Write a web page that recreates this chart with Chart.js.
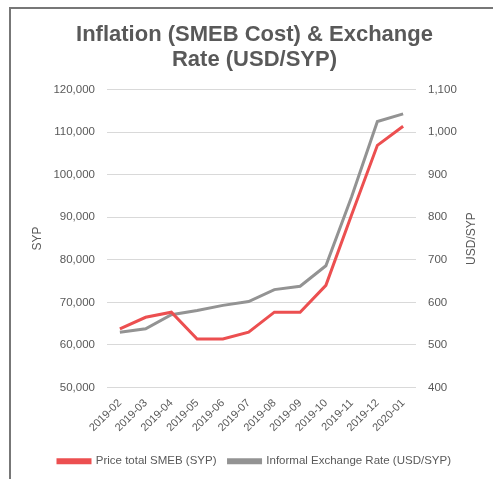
<!DOCTYPE html>
<html>
<head>
<meta charset="utf-8">
<script src="https://cdn.jsdelivr.net/npm/chart.js@4"></script>
<style>
  html, body { margin: 0; padding: 0; background: #fff; overflow: hidden; }
  #wrap { position: relative; width: 493px; height: 479px; }
  #frame { position: absolute; left: 9px; top: 7px; width: 600px; height: 600px;
           border-left: 2px solid #777; border-top: 2px solid #777; }
  canvas { position: absolute; left: 0; top: 0; }
</style>
</head>
<body>
<div id="wrap">
  <div id="frame"></div>
  <canvas id="myChart" width="493" height="479"></canvas>
</div>
<script>
// month labels along the x-axis
var months = ["2019-02","2019-03","2019-04","2019-05","2019-06","2019-07",
              "2019-08","2019-09","2019-10","2019-11","2019-12","2020-01"];
// SMEB cost, SYP (left axis)
var smebPrice = [63800,66500,67700,61400,61400,63000,67700,67700,74000,90600,106900,111400];
// informal exchange rate, USD/SYP (right axis)
var exchangeRate = [530,538,571,581,593,602,630,638,686,848,1025,1043];

var titleLines = ["Inflation (SMEB Cost) & Exchange", "Rate (USD/SYP)"];
var leftTitle = "SYP";
var rightTitle = "USD/SYP";

var grey = "#595959";
var font = "'Liberation Sans', Arial, sans-serif";

// right axis title reads bottom-to-top like in Excel
var rightTitlePlugin = {
  id: "rightTitle",
  afterDraw: function (chart) {
    var c = chart.ctx;
    var y2 = chart.scales.y2;
    c.save();
    c.translate(472, (y2.top + y2.bottom) / 2);
    c.rotate(-Math.PI / 2);
    c.fillStyle = grey;
    c.font = "12px " + font;
    c.textAlign = "center";
    c.textBaseline = "middle";
    c.fillText(rightTitle, 0, 0);
    c.restore();
  }
};

var ctx = document.getElementById("myChart");
var myChart = new Chart(ctx, {
  type: 'line',
  data: {
    labels: months,
    datasets: [
      {
        data: smebPrice,
        label: "Price total SMEB (SYP)",
        borderColor: "#ec4f50",
        backgroundColor: "#ec4f50",
        borderWidth: 3,
        pointRadius: 0,
        yAxisID: 'y',
        fill: false
      },
      {
        data: exchangeRate,
        label: "Informal Exchange Rate (USD/SYP)",
        borderColor: "#939393",
        backgroundColor: "#939393",
        borderWidth: 3,
        pointRadius: 0,
        yAxisID: 'y2',
        fill: false
      }
    ]
  },
  options: {
    responsive: false,
    animation: false,
    layout: { padding: { left: 30, right: 14, top: 0, bottom: 2 } },
    plugins: {
      title: {
        display: true,
        text: titleLines,
        color: grey,
        font: { family: font, size: 22, weight: 'bold', lineHeight: 1.15 },
        padding: { top: 22, bottom: 17 }
      },
      legend: {
        position: 'bottom',
        labels: {
          color: grey,
          font: { family: font, size: 11.5 },
          boxWidth: 32,
          boxHeight: 3,
          padding: 12
        }
      },
      tooltip: { enabled: false }
    },
    scales: {
      x: {
        offset: true,
        grid: { display: false },
        border: { display: false },
        ticks: {
          color: grey,
          font: { family: font, size: 11 },
          minRotation: 45,
          maxRotation: 45,
          padding: 1
        },
        afterFit: function (s) { s.height = 56; }
      },
      y: {
        position: 'left',
        min: 50000,
        max: 120000,
        grid: { color: "#d9d9d9", drawTicks: false },
        border: { display: false },
        ticks: {
          stepSize: 10000,
          color: grey,
          font: { family: font, size: 11.5 },
          padding: 12,
          callback: function (v) { return v.toLocaleString('en-US'); }
        },
        title: {
          display: true,
          text: leftTitle,
          color: grey,
          font: { family: font, size: 12 },
          padding: 0
        },
        afterFit: function (s) { s.width = 77; }
      },
      y2: {
        position: 'right',
        min: 400,
        max: 1100,
        grid: { drawOnChartArea: false, drawTicks: false },
        border: { display: false },
        ticks: {
          stepSize: 100,
          color: grey,
          font: { family: font, size: 11.5 },
          padding: 12,
          callback: function (v) { return v.toLocaleString('en-US'); }
        },
        afterFit: function (s) { s.width = 63; }
      }
    }
  },
  plugins: [rightTitlePlugin]
});
</script>
</body>
</html>
